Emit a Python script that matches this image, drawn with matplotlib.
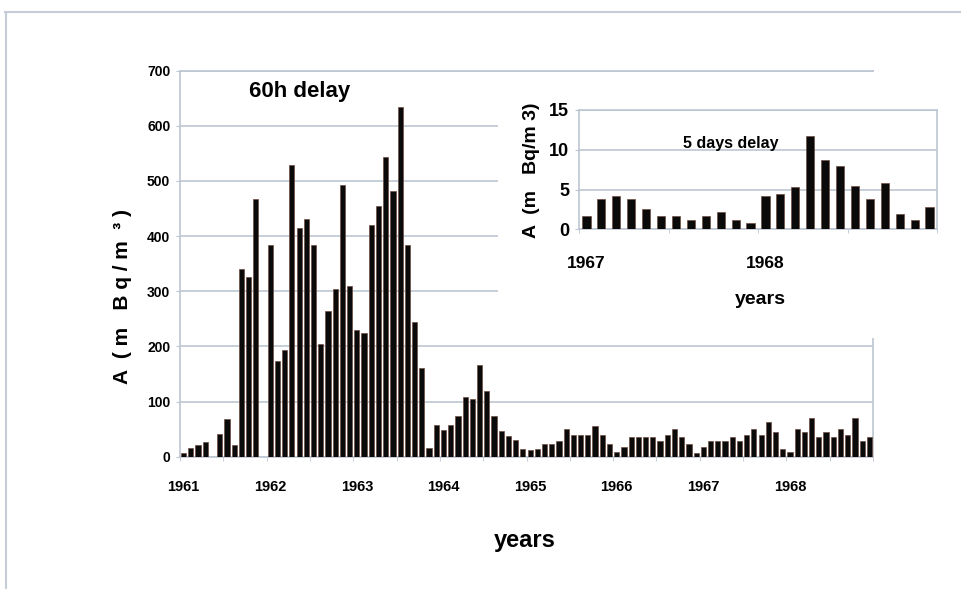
import matplotlib
matplotlib.use("Agg")
import matplotlib.pyplot as plt
from matplotlib.patches import Rectangle
from matplotlib.lines import Line2D
import numpy as np

plt.rcParams['font.family'] = ['Liberation Sans Narrow', 'Liberation Sans', 'DejaVu Sans']
plt.rcParams['font.weight'] = 'bold'

# monthly activity 1961-1968, 60h delay (mBq/m3)
activity_60h = [6, 16, 21, 27, 0, 42, 68, 21, 341, 325, 467, 0,
                384, 173, 193, 528, 414, 430, 384, 205, 264, 304, 493, 309,
                230, 224, 420, 455, 544, 482, 633, 383, 245, 161, 16, 57,
                48, 57, 73, 108, 104, 167, 119, 73, 47, 37, 30, 14,
                12, 14, 23, 23, 29, 50, 39, 39, 39, 55, 39, 23,
                8, 18, 35, 35, 35, 35, 29, 39, 50, 35, 23, 7,
                18, 28, 28, 28, 35, 28, 39, 50, 39, 62, 45, 14,
                8, 50, 44, 71, 35, 44, 35, 50, 39, 71, 29, 35]
years_main = ['1961', '1962', '1963', '1964', '1965', '1966', '1967', '1968']

# monthly activity 1967-1968, 5 days delay
activity_5d = [1.7, 3.8, 4.2, 3.8, 2.6, 1.7, 1.7, 1.2, 1.7, 2.2, 1.2, 0.8,
               4.2, 4.4, 5.3, 11.7, 8.7, 8.0, 5.5, 3.8, 5.8, 1.9, 1.2, 2.8]
years_inset = ['1967', '1968']

grid_col = '#bcc6d2'
bar_face = '#0a0a0a'
bar_edge = '#6e4c40'

fig = plt.figure(figsize=(9.61, 5.89), dpi=100)
W, H = 961, 589

def fig_rect(x0, y0, x1, y1):
    # pixel box (top-left origin) -> figure fraction [l, b, w, h]
    return [x0 / W, 1 - y1 / H, (x1 - x0) / W, (y1 - y0) / H]

# outer frame of the picture
fig.add_artist(Line2D([5 / W, 1], [1 - 12 / H, 1 - 12 / H], color='#c5cdd6', lw=1.5))
fig.add_artist(Line2D([6 / W, 6 / W], [0, 1 - 12 / H], color='#c5cdd6', lw=1.5))

# ---- main chart
ax = fig.add_axes(fig_rect(180, 70.5, 873, 456.7))
x = np.arange(len(activity_60h))
ax.bar(x, activity_60h, width=0.72, color=bar_face, edgecolor=bar_edge, linewidth=0.5, zorder=3)
ax.set_xlim(-0.5, len(activity_60h) - 0.5)
ax.set_ylim(0, 700)
ax.set_yticks(range(0, 701, 100))
ax.yaxis.grid(True, color=grid_col, lw=1.2, zorder=0)
ax.set_xticks(np.arange(0, len(activity_60h), 12))
ax.set_xticklabels(years_main)
ax.set_xticks(np.arange(-0.5, len(activity_60h), 6), minor=True)
ax.tick_params(axis='x', which='major', length=0, pad=17, labelsize=10.5)
ax.tick_params(axis='x', which='minor', length=3, color=grid_col)
ax.tick_params(axis='y', length=3, color=grid_col, labelsize=10, pad=4)
for s in ['left', 'bottom', 'right', 'top']:
    ax.spines[s].set_color(grid_col)
    ax.spines[s].set_linewidth(1.2)
ax.text(0.172, 0.945, '60h delay', transform=ax.transAxes, ha='center', va='center', fontsize=16)
fig.text(122 / W, 1 - 297 / H, 'A  ( m   B q / m  ³ )', rotation=90, ha='center', va='center', fontsize=15)
fig.text(525 / W, 1 - 540 / H, 'years', ha='center', va='center', fontsize=17)

# white panel behind inset
fig.add_artist(Rectangle((498 / W, 1 - 338 / H), (955 - 498) / W, (338 - 72) / H,
                         transform=fig.transFigure, facecolor='white', edgecolor='none', zorder=2))

# ---- inset
axi = fig.add_axes(fig_rect(579, 110, 937, 229.3))
axi.set_zorder(3)
xi = np.arange(len(activity_5d))
axi.bar(xi, activity_5d, width=0.55, color=bar_face, edgecolor=bar_edge, linewidth=0.5, zorder=3)
axi.set_xlim(-0.5, len(activity_5d) - 0.5)
axi.set_ylim(0, 15)
axi.set_yticks([0, 5, 10, 15])
axi.yaxis.grid(True, color=grid_col, lw=1.2, zorder=0)
axi.set_xticks([0, 12])
axi.set_xticklabels(years_inset)
axi.set_xticks(np.arange(-0.5, len(activity_5d), 6), minor=True)
axi.tick_params(axis='x', which='major', length=0, pad=19, labelsize=12.5)
axi.tick_params(axis='x', which='minor', length=3, color=grid_col)
axi.tick_params(axis='y', length=3, color=grid_col, labelsize=13, pad=4)
for s in ['left', 'bottom', 'right', 'top']:
    axi.spines[s].set_color(grid_col)
    axi.spines[s].set_linewidth(1.2)
axi.text(0.425, 0.72, '5 days delay', transform=axi.transAxes, ha='center', va='center', fontsize=11.5)
fig.text(532 / W, 1 - 170 / H, 'A  (m   Bq/m 3)', rotation=90, ha='center', va='center', fontsize=14)
fig.text(760 / W, 1 - 300 / H, 'years', ha='center', va='center', fontsize=14)

fig.savefig('out.png', dpi=100, facecolor='white')
